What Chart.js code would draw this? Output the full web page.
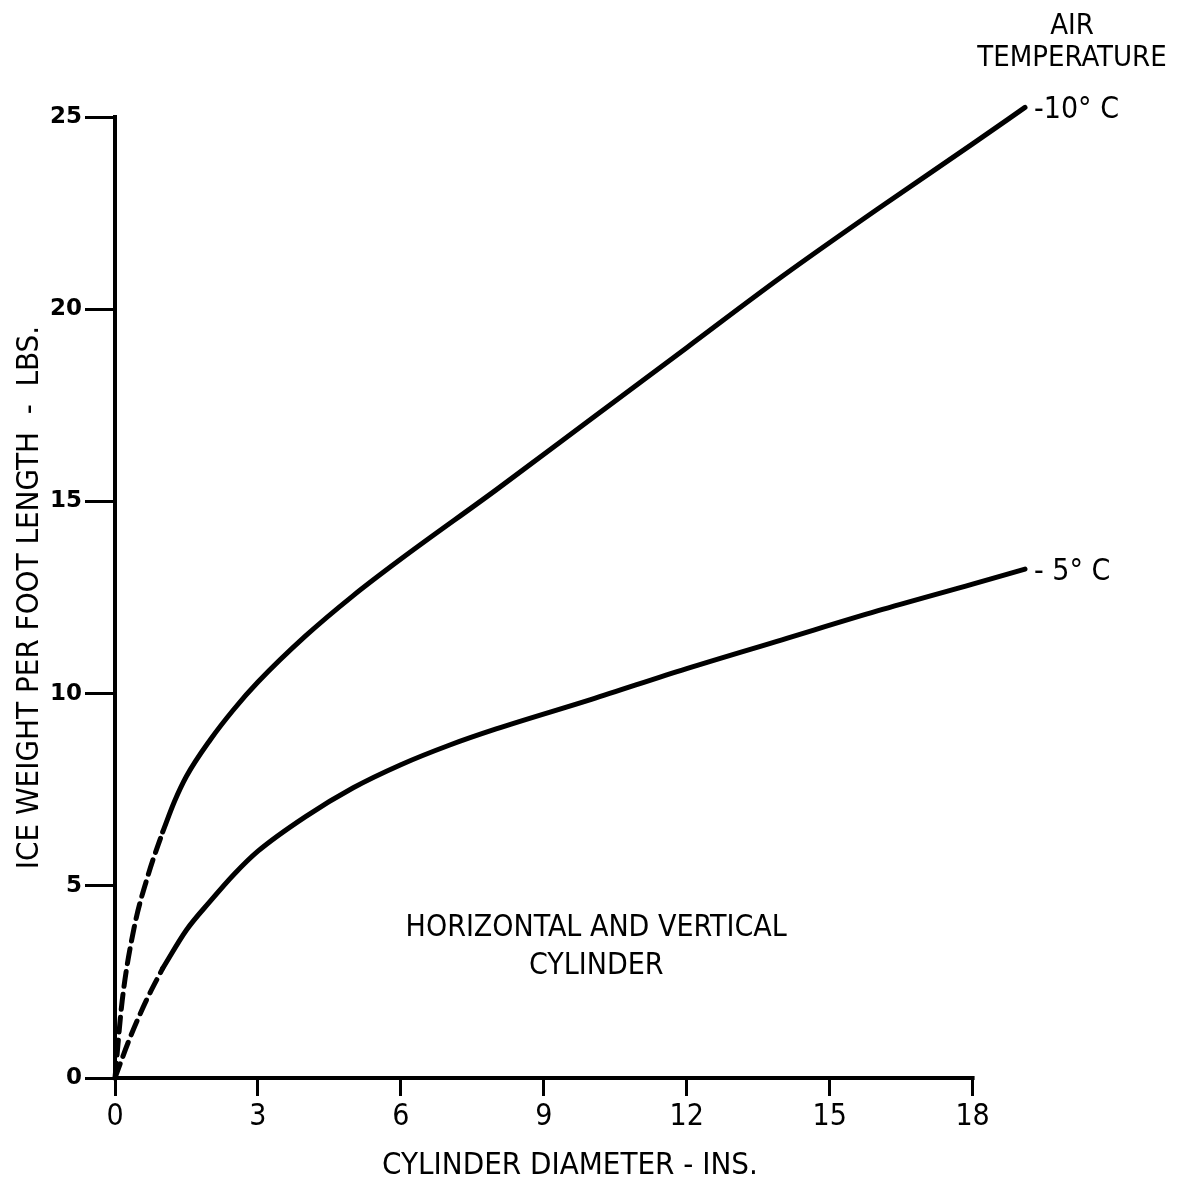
<!DOCTYPE html>
<html>
<head>
<meta charset="utf-8">
<script src="https://cdn.jsdelivr.net/npm/chart.js@4/dist/chart.umd.min.js"></script>
<style>
  html, body { margin: 0; padding: 0; background: #fff; }
  canvas { display: block; }
</style>
</head>
<body>
<canvas id="iceChart" width="1181" height="1178"></canvas>
<script>
// -10 C curve: dashed part near the origin, then solid
const dashX10 = [0, 0.15, 0.4, 0.7, 1.0];
const dashY10 = [0, 2.0, 3.9, 5.3, 6.4];
const solidX10 = [1.0, 1.25, 1.5, 2, 2.5, 3, 4, 5, 6, 8, 10, 12, 14, 16, 18, 19.1];
const solidY10 = [6.4, 7.2, 7.85, 8.8, 9.6, 10.3, 11.5, 12.55, 13.5, 15.3, 17.15, 19.0, 20.85, 22.6, 24.3, 25.25];

// -5 C curve
const dashX5 = [0, 0.3, 0.65, 1.0];
const dashY5 = [0, 1.0, 2.0, 2.85];
const solidX5 = [1.0, 1.5, 2, 2.5, 3, 4, 5, 6, 7, 8, 10, 12, 14, 16, 18, 19.1];
const solidY5 = [2.85, 3.85, 4.6, 5.3, 5.9, 6.8, 7.55, 8.15, 8.65, 9.08, 9.85, 10.65, 11.4, 12.15, 12.85, 13.24];

const xTicks = [0, 3, 6, 9, 12, 15, 18];
const yTicks = [0, 5, 10, 15, 20, 25];
const xEnd = 19.1;
const curveLabels = ['-10° C', '- 5° C'];

const narrow = "'DejaVu Sans Condensed', 'Liberation Sans Narrow', 'DejaVu Sans', sans-serif";

const toPoints = (xs, ys) => xs.map((x, i) => ({ x: x, y: ys[i] }));

const curve = (label, xs, ys, dashed) => ({
    label: label,
    data: toPoints(xs, ys),
    borderColor: '#000',
    borderWidth: 5,
    borderDash: dashed ? [15, 8] : [],
    borderCapStyle: 'round',
    pointRadius: 0,
    cubicInterpolationMode: 'monotone',
    clip: false
});

// x axis line stops at the last tick, curves and labels run past it
const axisAndNotes = {
    id: 'axisAndNotes',
    afterDatasetsDraw(chart) {
        const { ctx, chartArea, scales: { x, y } } = chart;
        ctx.save();
        ctx.strokeStyle = '#000';
        ctx.lineWidth = 4;
        ctx.beginPath();
        ctx.moveTo(x.getPixelForValue(0) - 2, chartArea.bottom);
        ctx.lineTo(x.getPixelForValue(xTicks[xTicks.length - 1]) + 2, chartArea.bottom);
        ctx.stroke();

        ctx.fillStyle = '#000';
        ctx.textBaseline = 'middle';
        ctx.font = '30px ' + narrow;
        ctx.textAlign = 'left';
        const endX = x.getPixelForValue(solidX10[solidX10.length - 1]);
        ctx.fillText(curveLabels[0], endX + 9, y.getPixelForValue(solidY10[solidY10.length - 1]) + 3);
        ctx.fillText(curveLabels[1], endX + 9, y.getPixelForValue(solidY5[solidY5.length - 1]) + 3);

        ctx.font = '29px ' + narrow;
        ctx.textAlign = 'center';
        ctx.fillText('AIR', endX + 47, 26);
        ctx.fillText('TEMPERATURE', endX + 47, 58);

        ctx.font = '30px ' + narrow;
        const cx = x.getPixelForValue(10.1);
        ctx.fillText('HORIZONTAL AND VERTICAL', cx, y.getPixelForValue(3.9));
        ctx.fillText('CYLINDER', cx, y.getPixelForValue(2.9));
        ctx.restore();
    }
};

new Chart(document.getElementById('iceChart'), {
    type: 'line',
    data: {
        datasets: [
            curve('-10 dashed', dashX10, dashY10, true),
            curve('-10', solidX10, solidY10, false),
            curve('-5 dashed', dashX5, dashY5, true),
            curve('-5', solidX5, solidY5, false)
        ]
    },
    options: {
        responsive: false,
        animation: false,
        layout: { padding: { left: 0, right: 156, top: 117, bottom: 0 } },
        plugins: { legend: { display: false }, tooltip: { enabled: false } },
        scales: {
            x: {
                type: 'linear',
                min: 0,
                max: xEnd,
                afterFit: s => { s.height = 100; },
                afterBuildTicks: s => { s.ticks = xTicks.map(v => ({ value: v })); },
                ticks: { color: '#000', padding: 3, font: { size: 30, family: narrow } },
                grid: { drawOnChartArea: false, tickLength: 18, color: '#000', lineWidth: 3 },
                border: { display: false },
                title: {
                    display: true,
                    text: 'CYLINDER DIAMETER - INS.',
                    color: '#000',
                    font: { size: 31, family: narrow, lineHeight: 0.8 },
                    padding: { top: 0, bottom: 0 }
                }
            },
            y: {
                type: 'linear',
                min: 0,
                max: 25,
                afterFit: s => { s.width = 115; },
                afterBuildTicks: s => { s.ticks = yTicks.map(v => ({ value: v })); },
                ticks: { color: '#000', padding: 3, font: { size: 23, weight: 'bold', family: "'DejaVu Sans', sans-serif" } },
                grid: { drawOnChartArea: false, tickLength: 30, color: '#000', lineWidth: 3 },
                border: { color: '#000', width: 4 },
                title: {
                    display: true,
                    text: 'ICE WEIGHT PER FOOT LENGTH  -  LBS.',
                    color: '#000',
                    font: { size: 31, family: narrow },
                    padding: { top: 11, bottom: 0 }
                }
            }
        }
    },
    plugins: [axisAndNotes]
});
</script>
</body>
</html>
